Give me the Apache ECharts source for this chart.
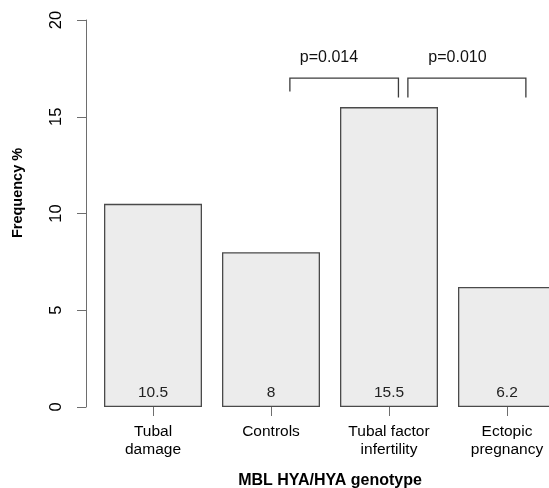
<!DOCTYPE html>
<html>
<head>
<meta charset="utf-8">
<script src="https://cdn.jsdelivr.net/npm/echarts@6/dist/echarts.min.js"></script>
<style>
  html, body { margin: 0; padding: 0; background: #ffffff; overflow: hidden; }
  #chart { width: 549px; height: 488px; }
</style>
</head>
<body>
<div id="chart"></div>
<script>
// Genotype groups and their HYA/HYA frequency (%)
const categories = ['Tubal\ndamage', 'Controls', 'Tubal factor\ninfertility', 'Ectopic\npregnancy'];
const frequency = [10.5, 8, 15.5, 6.2];
const yTicks = [0, 5, 10, 15, 20];

// Significance brackets: [start category, end category, top, left-leg bottom, right-leg bottom, label]
const bracketFrom = [1.16, 2.16];
const bracketTo = [2.08, 3.16];
const bracketTop = [17.0, 17.0];
const bracketLeftEnd = [16.3, 16.0];
const bracketRightEnd = [16.0, 16.0];
const bracketLabels = ['p=0.014', 'p=0.010'];
const bracketLabelAt = [0.36, 0.42];

const FONT = 'Liberation Sans, Arial, sans-serif';
const AXIS_GREY = '#6e6e6e';

const chart = echarts.init(document.getElementById('chart'), null, { renderer: 'canvas' });

const bracketData = bracketFrom.map((f, i) => [f, bracketTo[i], bracketTop[i], bracketLeftEnd[i], bracketRightEnd[i], bracketLabels[i], bracketLabelAt[i]]);

// Convert a fractional category position to pixel x using the band layout
function catX(api, pos) {
  const base = Math.round(pos);
  const band = api.size([1, 0])[0];
  return api.coord([base, 0])[0] + (pos - base) * band;
}

chart.setOption({
  animation: false,
  backgroundColor: '#ffffff',
  textStyle: { fontFamily: FONT },
  grid: { left: 94, right: -17, top: 20, bottom: 81, outerBoundsMode: 'none', containLabel: false },
  xAxis: {
    type: 'category',
    data: categories,
    name: 'MBL HYA/HYA genotype',
    nameLocation: 'middle',
    nameGap: 66,
    nameTextStyle: { fontFamily: FONT, fontSize: 16, fontWeight: 'bold', color: '#000' },
    axisLine: { show: false },
    axisTick: { show: true, alignWithLabel: true, length: 9, lineStyle: { color: AXIS_GREY, width: 1 } },
    axisLabel: { fontFamily: FONT, fontSize: 15.5, color: '#000', margin: 16, lineHeight: 18, interval: 0 }
  },
  yAxis: {
    type: 'value',
    min: 0, max: 20, interval: 5,
    offset: 8,
    axisLine: { show: true, lineStyle: { color: AXIS_GREY, width: 1 } },
    axisTick: { show: true, length: 9, lineStyle: { color: AXIS_GREY, width: 1 } },
    axisLabel: {
      fontFamily: FONT, fontSize: 16.5, color: '#000', rotate: 90, margin: 21,
      formatter: v => (yTicks.includes(v) ? String(v) : '')
    },
    splitLine: { show: false }
  },
  graphic: [{
    type: 'text',
    x: 18, y: 193,
    rotation: Math.PI / 2,
    style: {
      text: 'Frequency %',
      font: 'bold 14.5px ' + FONT,
      fill: '#000',
      textAlign: 'center',
      textVerticalAlign: 'middle'
    }
  }],
  series: [{
    type: 'bar',
    data: frequency,
    barWidth: 98,
    itemStyle: { color: '#ececec', borderColor: '#4a4a4a', borderWidth: 1.3 },
    label: {
      show: true,
      position: 'insideBottom',
      distance: 6,
      fontFamily: FONT, fontSize: 15.5, color: '#222',
      formatter: p => String(p.value)
    }
  }, {
    type: 'custom',
    data: bracketData,
    clip: false,
    renderItem: (params, api) => {
      const d = bracketData[params.dataIndex];
      const x1 = catX(api, d[0]);
      const x2 = catX(api, d[1]);
      const yTop = api.coord([0, d[2]])[1];
      const yL = api.coord([0, d[3]])[1];
      const yR = api.coord([0, d[4]])[1];
      return {
        type: 'group',
        children: [{
          type: 'polyline',
          shape: { points: [[x1, yL], [x1, yTop], [x2, yTop], [x2, yR]] },
          style: { stroke: '#3c3c3c', lineWidth: 1.3, fill: null }
        }, {
          type: 'text',
          style: {
            x: x1 + (x2 - x1) * d[6], y: yTop - 20,
            text: d[5],
            font: '16px ' + FONT,
            fill: '#111',
            textAlign: 'center',
            textVerticalAlign: 'middle'
          }
        }]
      };
    }
  }]
});
</script>
</body>
</html>
